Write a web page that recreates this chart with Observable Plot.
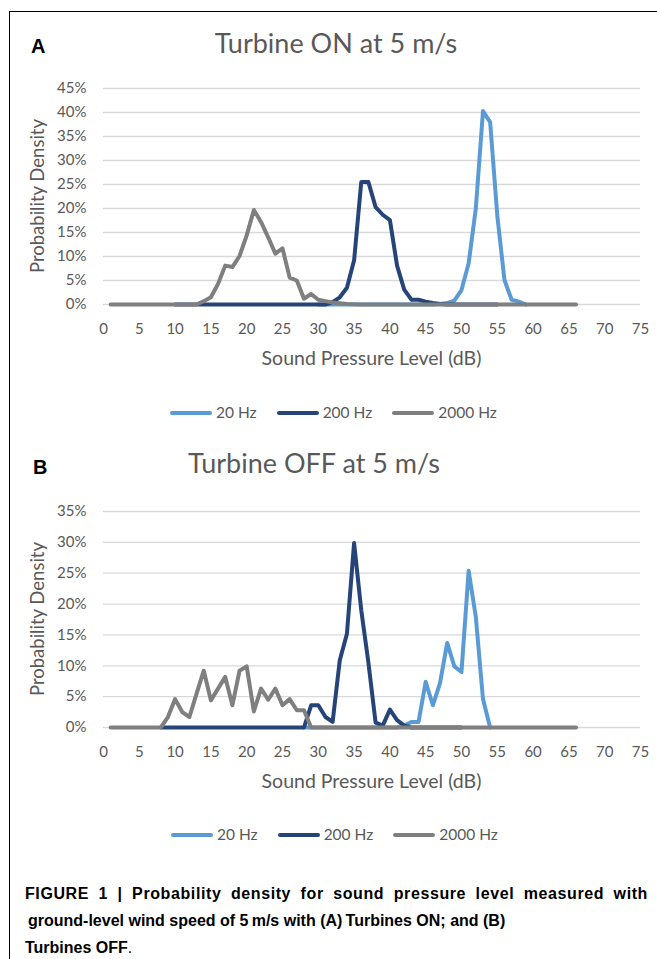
<!DOCTYPE html>
<html>
<head>
<meta charset="utf-8">
<script src="https://cdn.jsdelivr.net/npm/d3@7"></script>
<script src="https://cdn.jsdelivr.net/npm/@observablehq/plot@0.6"></script>
<style>
  html, body { margin: 0; padding: 0; background: #fff; }
  #fig { position: relative; width: 657px; height: 959px; background: #fff; overflow: hidden; font-family: Lato, "Open Sans", sans-serif; color: #595959; }
  .abs { position: absolute; white-space: nowrap; }
  .panel-letter { font-family: "Liberation Sans", Arial, sans-serif; font-weight: bold; font-size: 20px; color: #000; line-height: 1; }
  .title { font-size: 27px; line-height: 1.2; text-align: center; }
  .ytitle { font-size: 18.5px; line-height: 1.2; }
  .xtitle { font-size: 19.5px; line-height: 1.2; text-align: center; }
  .legend { display: flex; align-items: center; font-size: 15.5px; line-height: 1; }
  .sw { display: inline-block; width: 42px; height: 4px; border-radius: 2px; margin-right: 4px; }
  .item { display: flex; align-items: center; margin-right: 20px; }
  .caption { font-family: "Liberation Sans", Arial, sans-serif; font-weight: bold; font-size: 16px; line-height: 27px; color: #000; white-space: nowrap; }
  .justify { width: 623px; text-align: justify; text-align-last: justify; white-space: normal; letter-spacing: 0.6px; }
</style>
</head>
<body>
<div id="fig">
  <div class="abs" style="left:9px; top:11px; right:-5px; bottom:-5px; border-top:1.5px solid #000; border-left:1.5px solid #000;"></div>

  <div class="abs panel-letter" style="left:31px; top:36px;">A</div>
  <div class="abs title" style="left:0; width:672px; top:26.5px;">Turbine ON at 5 m/s</div>
  <div class="abs ytitle" style="left:37px; top:196px; transform: translate(-50%,-50%) rotate(-90deg);">Probability Density</div>
  <div id="plotA" class="abs" style="left:0; top:70px;"></div>
  <div class="abs xtitle" style="left:103px; width:537px; top:345.5px;">Sound Pressure Level (dB)</div>
  <div id="legA" class="abs legend" style="left:170px; top:405px;"></div>

  <div class="abs panel-letter" style="left:33px; top:457px;">B</div>
  <div class="abs title" style="left:0; width:628px; top:447px;">Turbine OFF at 5 m/s</div>
  <div class="abs ytitle" style="left:37px; top:619px; transform: translate(-50%,-50%) rotate(-90deg);">Probability Density</div>
  <div id="plotB" class="abs" style="left:0; top:493px;"></div>
  <div class="abs xtitle" style="left:103px; width:537px; top:768.5px;">Sound Pressure Level (dB)</div>
  <div id="legB" class="abs legend" style="left:171px; top:827px;"></div>

  <div class="abs caption" style="left:25px; top:880px;">
    <div class="justify">FIGURE 1 | Probability density for sound pressure level measured with</div>
    <div style="padding-left:3px;">ground-level wind speed of 5&#8201;m/s with (A)&#8201;Turbines ON; and (B)</div>
    <div>Turbines OFF<span style="font-weight:normal">.</span></div>
  </div>
</div>
<script>
// ---------- Data (values in %, x in dB) ----------
const seriesNames = ["20 Hz", "200 Hz", "2000 Hz"];
const seriesColors = ["#5b9bd5", "#264478", "#7f7f7f"];
const xTicks = [0, 5, 10, 15, 20, 25, 30, 35, 40, 45, 50, 55, 60, 65, 70, 75];
const yTicksA = [0, 5, 10, 15, 20, 25, 30, 35, 40, 45];
const yTicksB = [0, 5, 10, 15, 20, 25, 30, 35];

// Panel A: Turbine ON
const dbA20 = [30, 46, 47, 48, 49, 50, 51, 52, 53, 54, 55, 56, 57, 58, 59];
const pA20  = [0, 0, 0.1, 0.3, 0.8, 3.0, 8.6, 20.0, 40.3, 38.0, 18.5, 5.1, 1.0, 0.6, 0];
const dbA200 = [10, 31, 32, 33, 34, 35, 36, 37, 38, 39, 40, 41, 42, 43, 44, 45, 46, 47, 48, 55];
const pA200  = [0, 0, 0.5, 1.5, 3.5, 9.2, 25.5, 25.5, 20.3, 18.7, 17.6, 8.1, 3.1, 1.0, 1.0, 0.6, 0.3, 0.1, 0, 0];
const dbA2000 = [1, 13, 14, 15, 16, 17, 18, 19, 20, 21, 22, 23, 24, 25, 26, 27, 28, 29, 30, 31, 32, 33, 34, 35, 36, 66];
const pA2000  = [0, 0, 0.7, 1.5, 4.3, 8.1, 7.8, 10.1, 14.4, 19.7, 17.2, 14.0, 10.6, 11.7, 5.6, 5.0, 1.2, 2.2, 1.0, 0.7, 0.4, 0.25, 0.1, 0.05, 0, 0];

// Panel B: Turbine OFF
const dbB20 = [28, 41, 42, 43, 44, 45, 46, 47, 48, 49, 50, 51, 52, 53, 54];
const pB20  = [0, 0, 0.3, 0.9, 0.9, 7.4, 3.6, 7.2, 13.7, 9.9, 9.0, 25.4, 17.9, 4.6, 0];
const dbB200 = [8, 28, 29, 30, 31, 32, 33, 34, 35, 36, 37, 38, 39, 40, 41, 42, 43, 50];
const pB200  = [0, 0, 3.6, 3.6, 1.7, 0.9, 10.9, 15.2, 29.9, 19.0, 10.5, 0.8, 0.3, 2.9, 1.2, 0.3, 0, 0];
const dbB2000 = [1, 8, 9, 10, 11, 12, 13, 14, 15, 16, 17, 18, 19, 20, 21, 22, 23, 24, 25, 26, 27, 28, 29, 66];
const pB2000  = [0, 0, 1.7, 4.6, 2.5, 1.7, 5.5, 9.2, 4.4, 6.3, 8.2, 3.6, 9.2, 9.9, 2.6, 6.3, 4.5, 6.3, 3.6, 4.6, 2.8, 2.8, 0, 0];

function rows(xs, ys) { return xs.map((x, i) => ({ x, y: ys[i] })); }

function panel(seriesData, yTicks) {
  const ymax = yTicks[yTicks.length - 1];
  return Plot.plot({
    width: 657,
    height: 294,
    marginLeft: 103,
    marginRight: 17,
    marginTop: 18,
    marginBottom: 60,
    style: { fontFamily: "Lato, 'Open Sans', sans-serif", fontSize: "15px", color: "#595959", background: "transparent", overflow: "visible" },
    x: { domain: [0, 75], ticks: xTicks, tickSize: 0, tickPadding: 19, label: null },
    y: { domain: [0, ymax], ticks: yTicks, tickSize: 0, tickPadding: 17, label: null, tickFormat: d => `${d}%` },
    marks: [
      Plot.ruleY(yTicks, { stroke: "#d9d9d9", strokeWidth: 1.3 }),
      ...seriesData.map((d, i) => Plot.line(d, {
        x: "x", y: "y", stroke: seriesColors[i], strokeWidth: 4,
        strokeLinecap: "round", strokeLinejoin: "round"
      }))
    ]
  });
}

document.getElementById("plotA").appendChild(panel([
  rows(dbA20, pA20), rows(dbA200, pA200), rows(dbA2000, pA2000)
], yTicksA));
document.getElementById("plotB").appendChild(panel([
  rows(dbB20, pB20), rows(dbB200, pB200), rows(dbB2000, pB2000)
], yTicksB));

function legend(el) {
  seriesNames.forEach((name, i) => {
    const item = document.createElement("div");
    item.className = "item";
    const sw = document.createElement("span");
    sw.className = "sw";
    sw.style.background = seriesColors[i];
    const t = document.createElement("span");
    t.textContent = name;
    item.appendChild(sw);
    item.appendChild(t);
    el.appendChild(item);
  });
}
legend(document.getElementById("legA"));
legend(document.getElementById("legB"));
</script>
</body>
</html>
